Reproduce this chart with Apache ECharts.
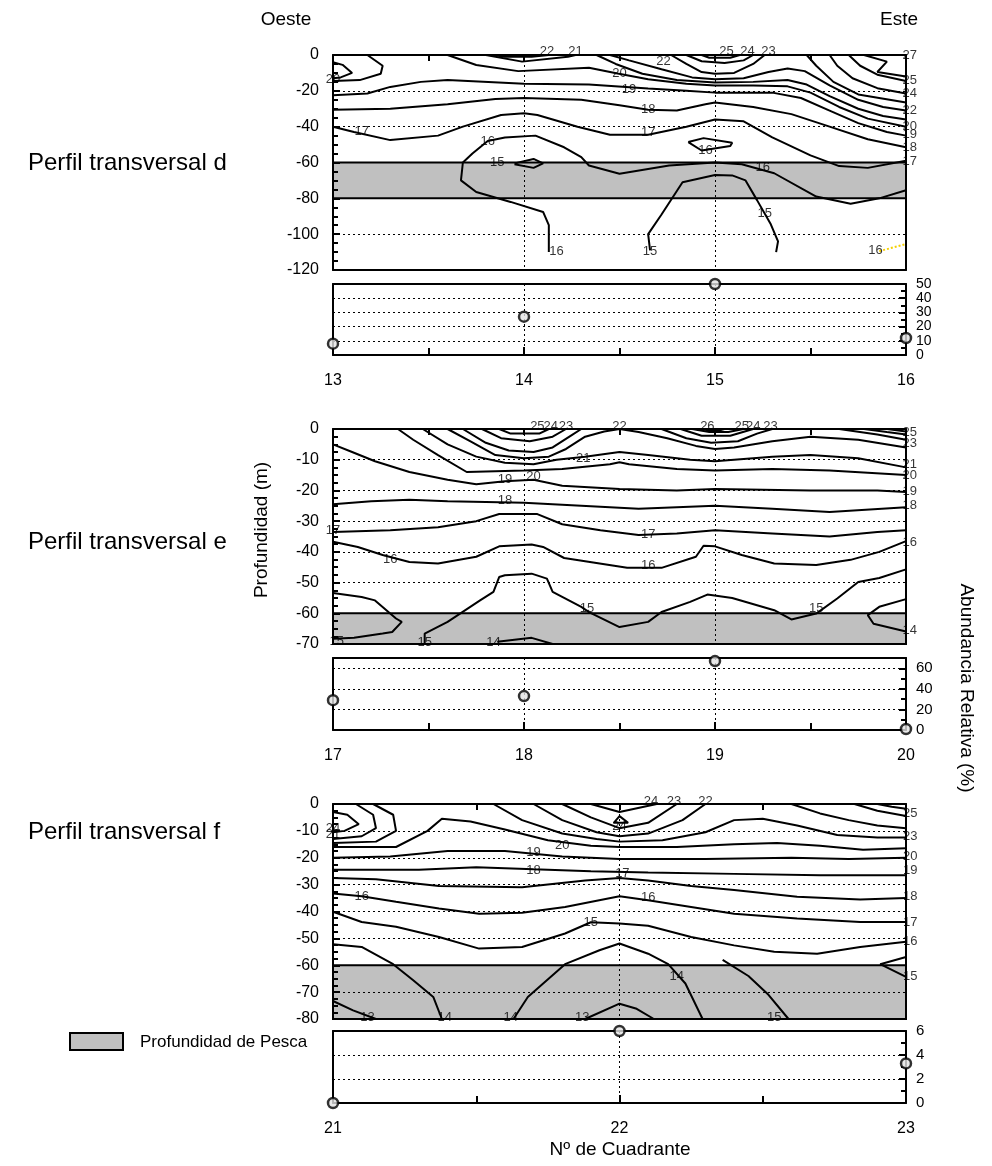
<!DOCTYPE html>
<html>
<head>
<meta charset="utf-8">
<script src="https://cdn.jsdelivr.net/npm/echarts@6/dist/echarts.min.js"></script>
<style>html,body{margin:0;padding:0;background:#fff}#c{width:992px;height:1166px}</style>
</head>
<body>
<div id="c"></div>
<script>
// ---------- DATA ----------
// Abundance panels (x = Nº de cuadrante, y = abundancia relativa %)
const quadD = [13, 14, 15, 16];
const abundD = [8, 27, 50, 12];
const quadE = [17, 18, 19, 20];
const abundE = [29, 33, 67, 1];
const quadF = [21, 22, 23];
const abundF = [0, 6, 3.3];

// Depth tick labels of the contour panels
const depthTicksD = [-120, -100, -80, -60, -40, -20, 0];
const depthTicksE = [-70, -60, -50, -40, -30, -20, -10, 0];
const depthTicksF = [-80, -70, -60, -50, -40, -30, -20, -10, 0];
// Abundance tick labels
const abTicksD = [0, 10, 20, 30, 40, 50];
const abTicksE = [0, 20, 40, 60];
const abTicksF = [0, 2, 4, 6];
// Fishing depth band (m)
const bandD = [-80, -60];
const bandE = [-70, -60];
const bandF = [-80, -60];

// Isotherm lines (cuadrante, profundidad)
const linesD = [
  [[13,-4],[13.05,-5.5],[13.1,-10],[13.04,-12.5],[13,-13]],
  [[13.18,0],[13.26,-6],[13.25,-10.5],[13.14,-14],[13,-14.5]],
  [[13.84,0],[13.9,-1],[14.04,-1],[14.13,0]],
  [[13.8,0],[13.99,-3.7],[14.23,-1],[14.27,0]],
  [[13.6,0],[13.75,-5.6],[13.97,-9],[14.34,-7.1],[14.49,-10.3],[14.65,-13.5],[14.85,-16],[15,-17],[15.2,-17],[15.38,-17.5],[15.5,-21],[15.65,-29],[15.8,-35.5],[16,-40]],
  [[14.38,0],[14.48,-5],[14.62,-10.5],[14.8,-14],[15,-15.3],[15.2,-15],[15.38,-14],[15.48,-16.5],[15.6,-23],[15.75,-30],[15.88,-34],[16,-36]],
  [[14.45,0],[14.55,-3],[14.72,-8],[14.88,-12.5],[15,-13.5],[15.15,-13],[15.28,-9.5],[15.38,-7.5],[15.47,-9],[15.6,-17],[15.75,-25],[15.88,-29],[16,-31]],
  [[14.77,0],[14.85,-5],[14.93,-9.5],[15,-10.5],[15.1,-10],[15.2,-5],[15.26,0]],
  [[14.85,0],[14.93,-3.5],[15.05,-4.5],[15.15,-3],[15.2,0]],
  [[14.93,0],[14.97,-1.5],[15.08,-1.5],[15.13,0]],
  [[15.48,0],[15.53,-6],[15.62,-15],[15.75,-22],[16,-26.5]],
  [[15.6,0],[15.64,-6],[15.72,-13],[15.85,-18.5],[16,-21.5]],
  [[15.7,0],[15.76,-6],[15.85,-11],[16,-14.5]],
  [[15.78,0],[15.9,-3.7],[15.85,-9.5],[16,-12]],
  [[13,-22.5],[13.18,-21.5],[13.3,-17.8],[13.46,-15],[13.6,-14],[14,-16],[14.34,-16.4],[14.65,-18.7],[14.85,-20],[15,-21],[15.3,-21],[15.45,-24],[15.6,-31],[15.75,-38],[15.9,-43],[16,-45]],
  [[13,-30.5],[13.3,-30],[13.6,-27.5],[13.85,-24.5],[14,-24],[14.3,-25],[14.5,-28],[14.65,-30.5],[14.8,-31],[14.95,-27.5],[15,-26.5],[15.2,-29],[15.4,-33],[15.6,-40],[15.8,-47],[16,-51.5]],
  [[13,-40],[13.11,-43],[13.3,-47.5],[13.55,-45],[13.68,-40],[13.88,-33.5],[14,-32.5],[14.07,-33.5],[14.28,-40],[14.45,-44.5],[14.65,-44.5],[14.85,-40],[15,-36],[15.15,-37],[15.3,-46],[15.5,-56],[15.65,-62],[15.8,-63],[16,-59]],
  [[14.13,-110],[14.13,-95],[14.1,-87.6],[13.93,-82],[13.75,-76.5],[13.67,-70],[13.68,-60],[13.73,-55],[13.81,-48],[13.9,-46],[14.06,-45],[14.21,-51.5],[14.3,-57],[14.34,-61.7],[14.5,-66.3],[14.76,-61.7],[15,-60],[15.14,-61],[15.31,-66],[15.53,-79],[15.71,-83],[15.86,-80],[16,-75.5]],
  [[13.95,-60.5],[14.05,-58],[14.1,-60.5],[14.05,-63],[13.95,-61]],
  [[14.86,-48.6],[14.94,-46.4],[15.09,-49],[15.08,-50.8],[14.93,-53.3],[14.86,-48.6]],
  [[14.66,-109],[14.65,-100],[14.72,-89],[14.83,-71],[15,-67],[15.09,-67.2],[15.16,-70],[15.22,-81],[15.29,-94],[15.33,-104],[15.32,-110]]
];
const yellowLineD = [[15.86,-109.5],[16,-105.5]];
const labelsD = [
  [13.0,-13.5,'20'],[13.15,-42.5,'17'],[14.12,1.8,'22'],[14.27,1.8,'21'],[14.5,-10.3,'20'],
  [14.55,-19.3,'19'],[14.65,-30.5,'18'],[14.65,-43,'17'],[14.73,-3.5,'22'],
  [15.06,1.8,'25'],[15.17,1.8,'24'],[15.28,1.8,'23'],
  [16.02,-0.5,'27'],[16.02,-14,'25'],[16.02,-21.5,'24'],[16.02,-31,'22'],[16.02,-40,'20'],
  [16.02,-44.5,'19'],[16.02,-51.5,'18'],[16.02,-59.5,'17'],
  [13.81,-48.5,'16'],[13.86,-60,'15'],[14.95,-53.5,'16'],[15.25,-62.5,'16'],[15.26,-88.5,'15'],
  [14.17,-109.5,'16'],[14.66,-109.5,'15'],[15.84,-109,'16']
];

const linesE = [
  [[17.87,0],[17.93,-1.5],[18.08,-1.5],[18.13,0]],
  [[17.78,0],[17.88,-3],[18.03,-4],[18.15,-2.5],[18.22,0]],
  [[17.68,0],[17.8,-4.5],[17.92,-7],[18.05,-7.5],[18.15,-6],[18.25,-2],[18.3,0]],
  [[18.93,0],[18.97,-0.5],[19.02,-0.5],[19.05,0]],
  [[18.88,0],[18.97,-1],[19.07,-1],[19.15,0]],
  [[18.82,0],[18.93,-2.2],[19.08,-2.2],[19.2,0]],
  [[18.72,0],[18.85,-3],[18.98,-4.5],[19.12,-4],[19.22,-1.5],[19.3,0]],
  [[19.65,0],[19.85,-1.8],[20,-3.5]],
  [[19.78,0],[19.9,-1],[20,-1.8]],
  [[19.9,0],[20,-0.8]],
  [[17.6,0],[17.72,-4],[17.85,-8.5],[18,-9.5],[18.13,-9],[18.22,-6.5],[18.32,-2.5],[18.42,-0.8],[18.5,0],[18.6,-1],[18.75,-3],[18.9,-5.5],[19,-6.5],[19.1,-6],[19.3,-4],[19.5,-2.5],[19.75,-3.5],[20,-6]],
  [[17.47,0],[17.6,-5],[17.75,-9],[17.9,-11],[18.05,-11.5],[18.17,-10],[18.32,-9],[18.5,-7.5],[18.65,-8.5],[18.87,-10],[19,-10.5],[19.1,-10],[19.3,-9],[19.5,-8.5],[19.75,-9.5],[20,-12.5]],
  [[17.34,0],[17.42,-3.5],[17.55,-8.5],[17.7,-14],[18,-13.5],[18.2,-13],[18.45,-11.5],[18.5,-10.8],[18.55,-11.5],[18.8,-13],[19,-13.5],[19.3,-13],[19.6,-13.5],[20,-15]],
  [[17,-5],[17.1,-7.5],[17.22,-10.5],[17.4,-14],[17.6,-16.5],[17.75,-18],[17.9,-17],[18.05,-16.5],[18.2,-18.5],[18.5,-19.5],[18.8,-20],[19,-19.5],[19.5,-20],[19.85,-20],[20,-20.5]],
  [[17,-24.5],[17.2,-23.5],[17.4,-23],[17.6,-23.5],[18,-24],[18.3,-25],[18.6,-26],[19,-25],[19.3,-26],[19.6,-27],[20,-25.5]],
  [[17,-33.5],[17.3,-33],[17.55,-32],[17.75,-30],[17.87,-27.7],[18.07,-27.7],[18.2,-31],[18.4,-33],[18.6,-34.5],[18.8,-34],[19,-33],[19.3,-34],[19.6,-35],[19.85,-33.5],[20,-33]],
  [[17,-36.7],[17.13,-38.4],[17.26,-41],[17.4,-43.3],[17.55,-43.8],[17.75,-41.6],[17.87,-38.2],[18.04,-37.6],[18.1,-38.4],[18.21,-42],[18.54,-45.2],[18.72,-45.2],[18.9,-41.6],[18.94,-38],[19,-38.2],[19.14,-41],[19.31,-43.8],[19.53,-44.3],[19.71,-42.6],[19.86,-40],[20,-36.5]],
  [[17,-53.4],[17.15,-54.7],[17.22,-55.8],[17.33,-61.7],[17.36,-62.8],[17.31,-66.1],[17.26,-66.6],[17.11,-68],[17,-68.3]],
  [[17.48,-70],[17.48,-66.6],[17.6,-62.8],[17.77,-55.8],[17.84,-53],[17.87,-48.2],[17.9,-47.6],[18.04,-47.1],[18.12,-48.7],[18.15,-53],[18.3,-57.9],[18.34,-59.6],[18.5,-64.5],[18.65,-62.8],[18.72,-59.6],[18.87,-56.3],[18.96,-53.9],[19.09,-55],[19.31,-59],[19.4,-62],[19.53,-60.1],[19.64,-55.2],[19.75,-49.8],[19.86,-48.5],[20,-45.7]],
  [[17.86,-69.3],[18.04,-68],[18.15,-70]],
  [[20,-55.4],[19.86,-57.9],[19.8,-60.6],[19.83,-63.4],[20,-65.9]]
];
const labelsE = [
  [18.07,1,'25'],[18.14,1,'24'],[18.22,1,'23'],[18.5,1,'22'],[18.96,1,'26'],[19.14,1,'25'],[19.2,1,'24'],[19.29,1,'23'],
  [20.02,-1,'25'],[20.02,-4.7,'23'],[20.02,-11.5,'21'],[20.02,-15,'20'],[20.02,-20.3,'19'],[20.02,-25,'18'],[20.02,-37,'16'],[20.02,-65.5,'14'],
  [18.31,-9.6,'21'],[17.9,-16.5,'19'],[18.05,-15.3,'20'],[17.9,-23.3,'18'],[17.0,-33,'17'],[18.65,-34.3,'17'],
  [17.3,-42.5,'16'],[18.65,-44.5,'16'],[18.33,-58.5,'15'],[19.53,-58.5,'15'],[17.02,-69,'15'],[17.48,-69.5,'15'],[17.84,-69.5,'14']
];

const linesF = [
  [[21,-3],[21.05,-4],[21.09,-7.5],[21.04,-10],[21,-10.5]],
  [[21.08,0],[21.14,-4],[21.15,-9],[21.1,-12],[21,-13]],
  [[21.14,0],[21.21,-4],[21.22,-10],[21.15,-14],[21,-14.5]],
  [[21.9,0],[22,-3],[22.13,0]],
  [[22,-4.5],[21.98,-7],[22.03,-7],[22,-4.5]],
  [[21.8,0],[21.9,-5],[22,-9],[22.1,-7],[22.2,0]],
  [[21.7,0],[21.8,-6],[21.92,-10.5],[22,-12],[22.1,-11],[22.22,-6],[22.3,0]],
  [[21.56,0],[21.66,-6],[21.8,-11],[21.92,-13],[22,-14],[22.15,-13.5],[22.3,-10.5],[22.4,-6],[22.5,-5.5],[22.62,-8],[22.76,-11.5],[22.9,-12.5],[23,-12.5]],
  [[21,-16],[21.22,-16],[21.33,-10],[21.38,-5.5],[21.48,-6.5],[21.6,-9.5],[21.75,-13.5],[21.9,-15.5],[22,-16],[22.2,-16],[22.4,-15],[22.55,-14.5],[22.7,-15.5],[22.85,-17],[23,-16.5]],
  [[22.6,0],[22.7,-3.5],[22.8,-6],[22.9,-8],[23,-9]],
  [[22.82,0],[22.9,-2.5],[23,-4.5]],
  [[22.9,0],[22.95,-1],[23,-1.8]],
  [[21,-20],[21.2,-19.5],[21.4,-17.5],[21.6,-17.5],[21.8,-19.5],[22,-20.5],[22.3,-20.5],[22.6,-20],[22.8,-20.5],[23,-20]],
  [[21,-24.5],[21.3,-24.5],[21.5,-23.5],[21.7,-24.3],[21.9,-25],[22.1,-25.5],[22.4,-26],[22.7,-26.5],[23,-26.5]],
  [[21,-27.5],[21.15,-28],[21.37,-30.5],[21.66,-31],[21.88,-28.5],[22,-27.5],[22.1,-28.5],[22.25,-30.5],[22.4,-32],[22.62,-34.5],[22.84,-35.5],[23,-35]],
  [[21,-33.3],[21.1,-34.3],[21.22,-36.4],[21.37,-38.9],[21.51,-40.8],[21.66,-40.5],[21.81,-38.3],[22,-34.3],[22.1,-35.8],[22.25,-38.3],[22.4,-40.8],[22.62,-42.6],[22.84,-43.9],[23,-43.9]],
  [[21,-40.1],[21.1,-43.9],[21.22,-45.7],[21.37,-49.5],[21.51,-53.8],[21.66,-53.2],[21.81,-48.2],[21.9,-44],[22,-44.5],[22.1,-45.3],[22.25,-49.5],[22.4,-52.6],[22.54,-55],[22.69,-55.7],[22.84,-53.2],[23,-51.3]],
  [[21,-52.2],[21.1,-53.2],[21.21,-59.6],[21.28,-65.6],[21.35,-71.8],[21.38,-80]],
  [[21.63,-80],[21.68,-71.8],[21.81,-59.6],[21.93,-54.4],[22,-51.9],[22.1,-55.7],[22.17,-59.6],[22.23,-66.8],[22.29,-80]],
  [[22.36,-58],[22.45,-64],[22.52,-71],[22.59,-80]],
  [[21,-73.3],[21.07,-76.8],[21.15,-80]],
  [[21.88,-80],[22,-74.3],[22.06,-76.2],[22.12,-80]],
  [[23,-56.9],[22.91,-59.6],[23,-64.3]]
];
const labelsF = [
  [22.11,1,'24'],[22.19,1,'23'],[22.3,1,'22'],[22,-8.2,'24'],[21,-9,'24'],[21,-11.5,'21'],
  [21.8,-15.3,'20'],[21.7,-18.1,'19'],[21.7,-24.6,'18'],[22.01,-25.8,'17'],[21.1,-34.3,'16'],[22.1,-34.8,'16'],
  [21.9,-43.9,'15'],[22.2,-64.3,'14'],[21.12,-79.3,'13'],[21.39,-79.3,'14'],[21.62,-79.3,'14'],[21.87,-79.3,'13'],[22.54,-79.3,'15'],
  [23.015,-3.5,'25'],[23.015,-12,'23'],[23.015,-19.4,'20'],[23.015,-24.6,'19'],[23.015,-34.3,'18'],[23.015,-43.9,'17'],[23.015,-51.3,'16'],[23.015,-64.1,'15']
];

// ---------- LAYOUT ----------
const FONT = "'Liberation Sans', Arial, Helvetica, sans-serif";
const GL = 333, GW = 573;
const panels = [
  {quad: quadD, ab: abundD, depth: depthTicksD, abT: abTicksD, band: bandD, lines: linesD, labels: labelsD, top: 55, h: 215, aTop: 284, aH: 71, minor: 4},
  {quad: quadE, ab: abundE, depth: depthTicksE, abT: abTicksE, band: bandE, lines: linesE, labels: labelsE, top: 429, h: 215, aTop: 658, aH: 72, minor: 4},
  {quad: quadF, ab: abundF, depth: depthTicksF, abT: abTicksF, band: bandF, lines: linesF, labels: labelsF, top: 804, h: 215, aTop: 1031, aH: 72, minor: 4}
];

const black = '#000';
const dash = {show: true, lineStyle: {color: black, width: 1, type: [2, 3]}};
const frameLine = {show: true, onZero: false, lineStyle: {color: black, width: 2}};
const grids = [], xAxes = [], yAxes = [], series = [];

function plainAxis(gi, pos, min, max) {
  return {gridIndex: gi, type: 'value', position: pos, min, max, z: 2,
    axisLine: frameLine, axisTick: {show: false}, axisLabel: {show: false}, splitLine: {show: false}};
}

panels.forEach((p, k) => {
  const xMin = p.quad[0], xMax = p.quad[p.quad.length - 1];
  const gC = 2 * k, gA = 2 * k + 1;
  grids.push({left: GL, width: GW, top: p.top, height: p.h});
  grids.push({left: GL, width: GW, top: p.aTop, height: p.aH});

  // contour grid axes
  const xTop = xAxes.length;
  xAxes.push({gridIndex: gC, type: 'value', position: 'top', min: xMin, max: xMax, interval: 1, z: 2,
    axisLine: frameLine,
    axisTick: {show: true, inside: true, length: 6, lineStyle: {color: black, width: 2}},
    minorTick: {show: true, splitNumber: 2, length: 6, lineStyle: {color: black, width: 2}},
    axisLabel: {show: false}, splitLine: dash});
  xAxes.push(plainAxis(gC, 'bottom', xMin, xMax));
  const yLeft = yAxes.length;
  const dMin = p.depth[0], dMax = p.depth[p.depth.length - 1];
  yAxes.push({gridIndex: gC, type: 'value', position: 'left', min: dMin, max: dMax, interval: p.depth[1] - p.depth[0], z: 2,
    axisLine: frameLine,
    axisTick: {show: true, inside: true, length: 7, lineStyle: {color: black, width: 2}},
    minorTick: {show: true, splitNumber: p.minor, length: 5, lineStyle: {color: black, width: 2}},
    axisLabel: {show: true, color: black, fontSize: 16, fontFamily: FONT, margin: 14, showMinLabel: true, showMaxLabel: true},
    splitLine: dash});
  yAxes.push(plainAxis(gC, 'right', dMin, dMax));

  // abundance grid axes
  const xBot = xAxes.length;
  xAxes.push({gridIndex: gA, type: 'value', position: 'bottom', min: xMin, max: xMax, interval: 1, z: 2,
    axisLine: frameLine,
    axisTick: {show: true, inside: true, length: 8, lineStyle: {color: black, width: 2}},
    minorTick: {show: true, splitNumber: 2, length: 7, lineStyle: {color: black, width: 2}},
    axisLabel: {show: true, color: black, fontSize: 16, fontFamily: FONT, margin: 18, showMinLabel: true, showMaxLabel: true},
    splitLine: dash});
  xAxes.push(plainAxis(gA, 'top', xMin, xMax));
  const yRight = yAxes.length;
  const aStep = p.abT[1] - p.abT[0];
  const aMax = p.abT[p.abT.length - 1] + (k === 1 ? 10 : 0);
  yAxes.push({gridIndex: gA, type: 'value', position: 'right', min: 0, max: aMax, interval: aStep, z: 2,
    axisLine: frameLine,
    axisTick: {show: true, inside: true, length: 7, lineStyle: {color: black, width: 2}},
    minorTick: {show: true, splitNumber: 2, length: 5, lineStyle: {color: black, width: 2}},
    axisLabel: {show: true, color: black, fontSize: k === 0 ? 14 : 15, fontFamily: FONT, margin: 10,
      showMinLabel: true, showMaxLabel: true, lineHeight: 11, hideOverlap: false,
      formatter: v => (p.abT.indexOf(v) >= 0 ? String(v) : '')},
    splitLine: dash});
  yAxes.push(plainAxis(gA, 'left', 0, aMax));

  // fishing depth band
  series.push({type: 'line', xAxisIndex: xTop, yAxisIndex: yLeft, data: [[xMin, p.band[0]]], symbol: 'none',
    lineStyle: {width: 0}, silent: true, z: 1,
    markArea: {silent: true, z: 1, itemStyle: {color: '#c0c0c0', borderColor: black, borderWidth: 2},
      data: [[{coord: [xMin, p.band[0]]}, {coord: [xMax, p.band[1]]}]]}});

  // isotherms
  p.lines.forEach(pts => {
    series.push({type: 'line', xAxisIndex: xTop, yAxisIndex: yLeft, data: pts, symbol: 'none', showSymbol: false,
      silent: true, z: 3, lineStyle: {color: black, width: 2}});
  });
  if (k === 0) {
    series.push({type: 'line', xAxisIndex: xTop, yAxisIndex: yLeft, data: yellowLineD, symbol: 'none', silent: true, z: 3,
      lineStyle: {color: '#f5d000', width: 2, type: [2, 2]}});
  }
  // isotherm labels
  series.push({type: 'scatter', xAxisIndex: xTop, yAxisIndex: yLeft, data: p.labels, symbolSize: 1, clip: false, silent: true, z: 4,
    itemStyle: {color: 'rgba(0,0,0,0)'},
    label: {show: true, position: 'inside', formatter: q => q.data[2], color: black, fontSize: 13, fontFamily: FONT}});

  // abundance points
  series.push({type: 'scatter', xAxisIndex: xBot, yAxisIndex: yRight, data: p.quad.map((q, i) => [q, p.ab[i]]),
    symbol: 'circle', symbolSize: 10, clip: false, z: 5,
    itemStyle: {color: '#e2e2e2', borderColor: black, borderWidth: 2.5}});
});

const txt = (x, y, text, size, align, rot) => ({type: 'text', x, y, rotation: rot || 0, z: 10,
  style: {text, fill: black, font: size + 'px ' + FONT, align: align || 'center', verticalAlign: 'middle'}});

const option = {
  animation: false,
  backgroundColor: '#fff',
  grid: grids, xAxis: xAxes, yAxis: yAxes, series,
  graphic: [
    txt(286, 20, 'Oeste', 19),
    txt(899, 20, 'Este', 19),
    txt(28, 163, 'Perfil transversal d', 24, 'left'),
    txt(28, 542, 'Perfil transversal e', 24, 'left'),
    txt(28, 832, 'Perfil transversal f', 24, 'left'),
    txt(262, 530, 'Profundidad (m)', 19, 'center', Math.PI / 2),
    txt(966, 688, 'Abundancia Relativa (%)', 19, 'center', -Math.PI / 2),
    txt(620, 1150, 'Nº de Cuadrante', 19),
    {type: 'rect', x: 70, y: 1033, z: 10, shape: {width: 53, height: 17}, style: {fill: '#c0c0c0', stroke: black, lineWidth: 2}},
    txt(140, 1042, 'Profundidad de Pesca', 17, 'left')
  ]
};
echarts.init(document.getElementById('c'), null, {renderer: 'canvas'}).setOption(option);
</script>
</body>
</html>
